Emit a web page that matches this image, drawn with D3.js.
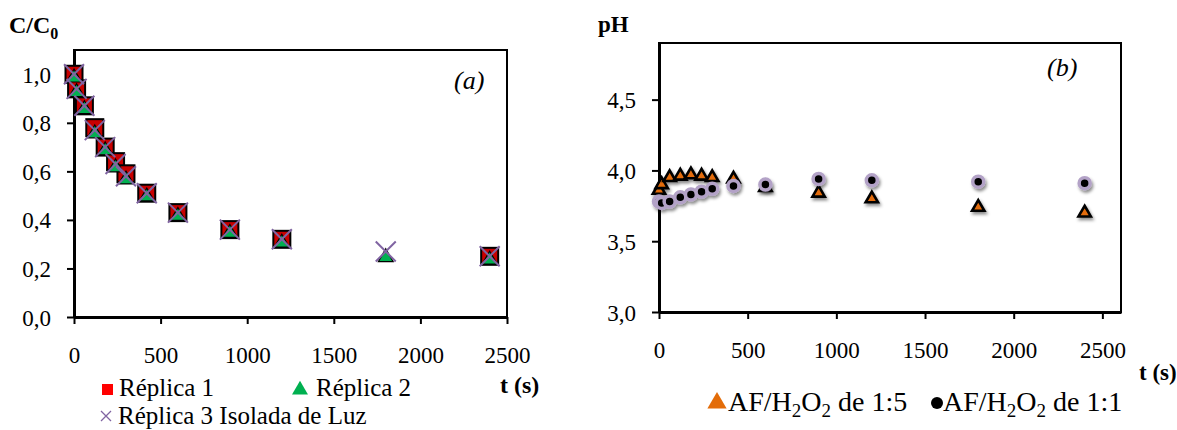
<!DOCTYPE html>
<html>
<head>
<meta charset="utf-8">
<script src="https://cdn.jsdelivr.net/npm/d3@7"></script>
<style>
  body { margin: 0; background: #fff; }
  svg, svg text { font-family: "Times New Roman", "Liberation Serif", "DejaVu Serif", serif; }
</style>
</head>
<body>
<svg id="chart" width="1177" height="430"></svg>
<script>
// data, panel (a): C/C0 vs time
const timeA = [0, 15, 60, 120, 180, 240, 300, 420, 600, 900, 1200, 1800, 2400];
const replica1 = [1.00, 0.94, 0.87, 0.78, 0.70, 0.64, 0.59, 0.51, 0.43, 0.36, 0.32, null, 0.25];
const replica2 = [0.99, 0.93, 0.86, 0.76, 0.69, 0.62, 0.57, 0.50, 0.42, 0.35, 0.31, 0.25, 0.24];
const replica3 = [1.00, 0.94, 0.87, 0.77, 0.70, 0.63, 0.58, 0.51, 0.43, 0.36, 0.32, 0.27, 0.25];

// data, panel (b): pH vs time
const timeB = [0, 15, 60, 120, 180, 240, 300, 420, 600, 900, 1200, 1800, 2400];
const ph15 = [3.86, 3.90, 3.95, 3.96, 3.97, 3.96, 3.95, 3.94, 3.88, 3.84, 3.80, 3.74, 3.70];
const ph11 = [3.78, 3.77, 3.78, 3.81, 3.83, 3.85, 3.87, 3.89, 3.90, 3.94, 3.93, 3.92, 3.91];

// tick labels
const xTicks = [0, 500, 1000, 1500, 2000, 2500];
const yTicksA = [0, 0.2, 0.4, 0.6, 0.8, 1.0];
const yTicksB = [3.0, 3.5, 4.0, 4.5];

const colors = {
  red: "#c80000",
  redLegend: "#ff0000",
  green: "#00b050",
  purple: "#8064a2",
  orange: "#e36c09",
  lavender: "#b3a2c7",
};
const serif = '"Times New Roman", "Liberation Serif", "DejaVu Serif", serif';

const svg = d3.select("#chart");
const comma = d3.formatLocale({ decimal: ",", thousands: ".", grouping: [3], currency: ["", ""] }).format(".1f");

// drop shadow used by the pH markers
const defs = svg.append("defs");
const shadow = defs.append("filter").attr("id", "shadow")
  .attr("x", "-50%").attr("y", "-50%").attr("width", "200%").attr("height", "200%");
shadow.append("feDropShadow")
  .attr("dx", 1.5).attr("dy", 2.5).attr("stdDeviation", 1.5)
  .attr("flood-color", "#000").attr("flood-opacity", 0.45);

function pairs(t, v) {
  return t.map((d, i) => ({ t: d, v: v[i] })).filter(d => d.v != null);
}

function drawFrame(x, y, yTicks) {
  const [x0, x1] = x.range();
  const [y0, y1] = y.range();
  const g = svg.append("g");

  g.append("rect")
    .attr("x", x0).attr("y", y1)
    .attr("width", x1 - x0).attr("height", y0 - y1)
    .attr("fill", "none").attr("stroke", "#000").attr("stroke-width", 2);

  const xAxis = g.append("g")
    .attr("transform", `translate(0,${y0})`)
    .call(d3.axisBottom(x).tickValues(xTicks).tickFormat(d3.format("d")).tickSize(7).tickSizeOuter(0).tickPadding(23));
  const yAxis = g.append("g")
    .attr("transform", `translate(${x0},0)`)
    .call(d3.axisLeft(y).tickValues(yTicks).tickFormat(comma).tickSize(7).tickSizeOuter(0).tickPadding(16));

  [xAxis, yAxis].forEach(a => {
    a.attr("font-family", serif).attr("font-size", 23);
    a.select(".domain").attr("stroke", "#000").attr("stroke-width", 3);
    a.selectAll(".tick line").attr("stroke", "#000").attr("stroke-width", 2);
    a.selectAll(".tick text").attr("fill", "#000");
  });
  yAxis.selectAll(".tick text").attr("dy", "0.35em");
}

// ---------- panel (a) ----------
const xA = d3.scaleLinear().domain([0, 2500]).range([74, 507]);
const yA = d3.scaleLinear().domain([0, 1.1]).range([317, 50]);
drawFrame(xA, yA, yTicksA);

const sq = 17;
svg.append("g").selectAll("rect")
  .data(pairs(timeA, replica1)).enter()
  .append("rect")
  .attr("x", d => xA(d.t) - sq / 2)
  .attr("y", d => yA(d.v) - sq / 2)
  .attr("width", sq).attr("height", sq)
  .attr("fill", colors.red).attr("stroke", "#000").attr("stroke-width", 2);

const tri = d3.symbol().type(d3.symbolTriangle);
svg.append("g").selectAll("path")
  .data(pairs(timeA, replica2)).enter()
  .append("path")
  .attr("d", tri.size(95)())
  .attr("transform", d => `translate(${xA(d.t)},${yA(d.v) + 1})`)
  .attr("fill", colors.green).attr("stroke", "#000").attr("stroke-width", 1.2);

svg.append("g").selectAll("path")
  .data(pairs(timeA, replica3)).enter()
  .append("path")
  .attr("d", "M-10,-10L10,10M-10,10L10,-10")
  .attr("transform", d => `translate(${xA(d.t)},${yA(d.v)})`)
  .attr("fill", "none").attr("stroke", colors.purple).attr("stroke-width", 2);

svg.append("text").attr("x", 454).attr("y", 89)
  .style("font-size", "26px").style("font-style", "italic").text("(a)");

const titleA = svg.append("text").attr("x", 9).attr("y", 33)
  .style("font-size", "24px").style("font-weight", "bold");
titleA.append("tspan").text("C/C");
titleA.append("tspan").attr("dy", 6).style("font-size", "16px").text("0");

svg.append("text").attr("x", 500).attr("y", 393)
  .style("font-size", "24px").style("font-weight", "bold").text("t (s)");

// legend (a)
const legA = svg.append("g").style("font-size", "25px");
legA.append("rect").attr("x", 102).attr("y", 384).attr("width", 11).attr("height", 11).attr("fill", colors.redLegend);
legA.append("text").attr("x", 119).attr("y", 396).text("Réplica 1");
legA.append("path").attr("d", tri.size(110)()).attr("transform", "translate(300,390)").attr("fill", colors.green);
legA.append("text").attr("x", 316).attr("y", 396).text("Réplica 2");
legA.append("path").attr("d", "M-5,-5L5,5M-5,5L5,-5").attr("transform", "translate(106,416)")
  .attr("stroke", colors.purple).attr("stroke-width", 1.3);
legA.append("text").attr("x", 118).attr("y", 424).text("Réplica 3 Isolada de Luz");

// ---------- panel (b) ----------
const xB = d3.scaleLinear().domain([0, 2605]).range([659, 1121]);
const yB = d3.scaleLinear().domain([3, 4.9]).range([312, 43]);
drawFrame(xB, yB, yTicksB);

svg.append("g").attr("filter", "url(#shadow)").selectAll("path")
  .data(pairs(timeB, ph15)).enter()
  .append("path")
  .attr("d", tri.size(66)())
  .attr("transform", d => `translate(${xB(d.t)},${yB(d.v)})`)
  .attr("fill", colors.orange).attr("stroke", "#000").attr("stroke-width", 2.6)
  .attr("stroke-linejoin", "miter");

svg.append("g").attr("filter", "url(#shadow)").selectAll("circle")
  .data(pairs(timeB, ph11)).enter()
  .append("circle")
  .attr("cx", d => xB(d.t)).attr("cy", d => yB(d.v)).attr("r", 5.5)
  .attr("fill", "#000").attr("stroke", colors.lavender).attr("stroke-width", 3.5);

svg.append("text").attr("x", 1047).attr("y", 76)
  .style("font-size", "26px").style("font-style", "italic").text("(b)");

svg.append("text").attr("x", 598).attr("y", 32)
  .style("font-size", "23px").style("font-weight", "bold").text("pH");

svg.append("text").attr("x", 1139).attr("y", 380)
  .style("font-size", "23px").style("font-weight", "bold").text("t (s)");

// legend (b)
function formulaLabel(g, x, y, ratio) {
  const t = g.append("text").attr("x", x).attr("y", y);
  t.append("tspan").text("AF/H");
  t.append("tspan").attr("dy", 6).style("font-size", "19px").text("2");
  t.append("tspan").attr("dy", -6).text("O");
  t.append("tspan").attr("dy", 6).style("font-size", "19px").text("2");
  t.append("tspan").attr("dy", -6).text(" de " + ratio);
}
const legB = svg.append("g").style("font-size", "28px");
legB.append("path").attr("d", tri.size(160)()).attr("transform", "translate(717,403)").attr("fill", colors.orange);
formulaLabel(legB, 728, 411, "1:5");
legB.append("circle").attr("cx", 937).attr("cy", 403).attr("r", 6).attr("fill", "#000");
formulaLabel(legB, 943, 411, "1:1");
</script>
</body>
</html>
